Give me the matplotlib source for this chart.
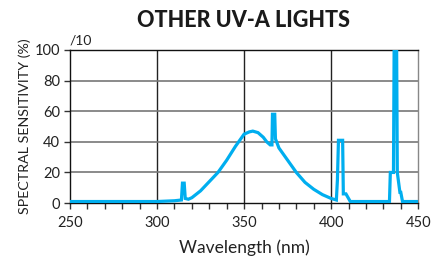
import matplotlib
matplotlib.use("Agg")
import matplotlib.pyplot as plt
from matplotlib.ticker import MultipleLocator

plt.rcParams['font.family'] = ['Lato', 'DejaVu Sans']

wavelength = [250, 300, 310, 314, 314.6, 315.6, 316.2, 318, 320, 325, 330, 335, 340, 345,
              350, 353, 355, 358, 361, 363, 365, 366, 366.3, 367.6, 368, 370, 375,
              380, 385, 390, 395, 400, 403, 403.6, 404.2, 406.6, 407, 408.5, 409.5, 411,
              420, 430, 433.5, 434, 435.8, 436.2, 437.6, 438, 439.5, 440, 441, 450]
sensitivity = [1, 1, 1.5, 2, 13, 13, 3, 2.5, 3.5, 8, 14, 20, 28, 37,
               45, 46.5, 47, 46, 43, 40, 38, 38, 58, 58, 42, 36, 28,
               20, 13.5, 9, 5.5, 3, 2, 15, 41, 41, 6, 6, 4, 1,
               1, 1, 1, 20, 20, 105, 105, 20, 7, 7, 1, 1]

x_ticks = [250, 300, 350, 400, 450]
y_ticks = [0, 20, 40, 60, 80, 100]

fig = plt.figure(figsize=(4.43, 2.59), dpi=100)
ax = fig.add_axes([0.158, 0.216, 0.786, 0.591])

ax.plot(wavelength, sensitivity, color='#00AEEF', lw=2.3, solid_joinstyle='miter', zorder=3)

ax.set_xlim(250, 450)
ax.set_ylim(0, 100)
ax.set_xticks(x_ticks)
ax.set_yticks(y_ticks)
ax.xaxis.set_minor_locator(MultipleLocator(10))

for v in [300, 350, 400]:
    ax.axvline(v, color='#222222', lw=1.0, zorder=1)
for v in [20, 40, 60, 80]:
    ax.axhline(v, color='#777777', lw=1.2, zorder=1)

for s in ['left', 'bottom', 'top']:
    ax.spines[s].set_color('#111111')
    ax.spines[s].set_linewidth(1.0)
ax.spines['right'].set_color('#888888')
ax.spines['right'].set_linewidth(1.0)

ax.tick_params(axis='both', which='both', direction='out', length=4, width=1.0,
               color='#333333', labelsize=10.5, labelcolor='#222222')
ax.tick_params(axis='x', pad=5)
ax.tick_params(axis='y', pad=3)

ax.set_xlabel('Wavelength (nm)', fontsize=12.5, color='#222222', labelpad=7)
ax.set_ylabel('SPECTRAL SENSITIVITY (%)', fontsize=10.3, color='#222222', labelpad=3)
fig.suptitle('OTHER UV-A LIGHTS', x=0.55, y=0.96, fontsize=15.5, fontweight='black', color='#1a1a1a')
ax.text(0.0, 1.02, '/10', transform=ax.transAxes, fontsize=10, color='#222222',
        ha='left', va='bottom')

fig.savefig('out.png', dpi=100)
